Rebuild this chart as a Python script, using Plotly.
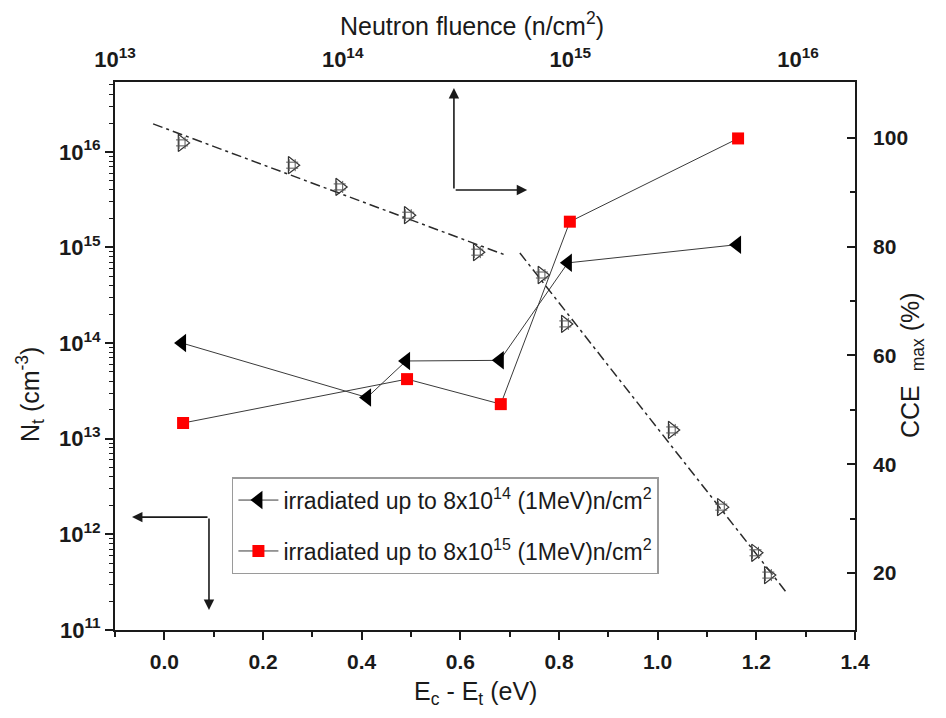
import plotly.graph_objects as go

# ---- data ----
# Trap concentration vs trap energy (bottom x, left log y)
e_tri = [0.036, 0.411, 0.49, 0.68, 0.818, 1.161]
nt_tri = [1.0e14, 2.7e13, 6.5e13, 6.6e13, 6.9e14, 1.07e15]
e_sq = [0.038, 0.492, 0.682, 0.822, 1.163]
nt_sq = [1.46e13, 4.2e13, 2.3e13, 1.86e15, 1.38e16]

# CCE_max vs neutron fluence (top x log, right y)
fluence = [1.97e13, 6.0e13, 9.7e13, 1.94e14, 3.9e14, 7.5e14, 9.5e14, 2.8e15, 4.6e15, 6.5e15, 7.4e15]
cce = [99.1, 95.0, 91.0, 85.8, 79.0, 74.8, 65.8, 46.3, 32.1, 23.7, 19.6]

# dash-dot guide lines (two straight segments)
fit1_x = [1.47e13, 5.16e14]
fit1_y = [102.6, 78.5]
fit2_x = [6.0e14, 8.93e15]
fit2_y = [78.85, 16.3]

x_ticks = [0.0, 0.2, 0.4, 0.6, 0.8, 1.0, 1.2, 1.4]
x_ticklabels = ["0.0", "0.2", "0.4", "0.6", "0.8", "1.0", "1.2", "1.4"]
y_ticks = [1e11, 1e12, 1e13, 1e14, 1e15, 1e16]
y_ticklabels = ["10<sup>11</sup>", "10<sup>12</sup>", "10<sup>13</sup>", "10<sup>14</sup>", "10<sup>15</sup>", "10<sup>16</sup>"]
top_ticks = [1e13, 1e14, 1e15, 1e16]
top_ticklabels = ["10<sup>13</sup>", "10<sup>14</sup>", "10<sup>15</sup>", "10<sup>16</sup>"]
r_ticks = [20, 40, 60, 80, 100]

legend_names = ["irradiated up to 8x10<sup>14</sup> (1MeV)n/cm<sup>2</sup>",
                "irradiated up to 8x10<sup>15</sup> (1MeV)n/cm<sup>2</sup>"]

FONT = "Liberation Sans, Arial, sans-serif"
INK = "#1a1a1a"

fig = go.Figure()

fig.add_trace(go.Scatter(x=e_tri, y=nt_tri, mode="lines+markers", name=legend_names[0],
                         line=dict(color="#3a3a3a", width=1),
                         marker=dict(symbol="triangle-left", size=16, color="black"),
                         legendgroup="a", xaxis="x", yaxis="y"))
fig.add_trace(go.Scatter(x=e_sq, y=nt_sq, mode="lines+markers", name=legend_names[1],
                         line=dict(color="#3a3a3a", width=1),
                         marker=dict(symbol="square", size=12, color="#ff0000"),
                         legendgroup="b", xaxis="x", yaxis="y"))

fig.add_trace(go.Scatter(x=fit1_x, y=fit1_y, mode="lines", showlegend=False,
                         line=dict(color="#2a2a2a", width=1.5, dash="10px,4px,3px,4px"),
                         xaxis="x2", yaxis="y2"))
fig.add_trace(go.Scatter(x=fit2_x, y=fit2_y, mode="lines", showlegend=False,
                         line=dict(color="#2a2a2a", width=1.5, dash="10px,4px,3px,4px"),
                         xaxis="x2", yaxis="y2"))
fig.add_trace(go.Scatter(x=fluence, y=cce, mode="markers", showlegend=False,
                         marker=dict(symbol="triangle-right-open", size=15, color="#333",
                                     line=dict(color="#333", width=1.2)),
                         xaxis="x2", yaxis="y2"))
fig.add_trace(go.Scatter(x=fluence, y=cce, mode="markers", showlegend=False,
                         marker=dict(symbol="hash-open", size=12, color="#555",
                                     line=dict(color="#555", width=1)),
                         xaxis="x2", yaxis="y2"))

minor_log = [m * 10 ** e for e in range(11, 17) for m in range(2, 10)]

axis_common = dict(showline=True, linecolor=INK, linewidth=1.8, showgrid=False, zeroline=False)
bold22 = dict(family=FONT, size=22, color=INK, weight="bold")
bold21 = dict(family=FONT, size=21, color=INK, weight="bold")

fig.update_layout(
    width=946, height=718,
    margin=dict(l=115, r=91, t=82, b=88),
    paper_bgcolor="white", plot_bgcolor="white",
    font=dict(family=FONT, color=INK),
    xaxis=dict(range=[-0.1, 1.4], tickvals=x_ticks, ticktext=x_ticklabels,
               ticks="outside", ticklen=8, tickwidth=1.5, tickcolor=INK, tickfont=bold21,
               ticklabelstandoff=4,
               minor=dict(tickvals=[-0.1, 0.1, 0.3, 0.5, 0.7, 0.9, 1.1, 1.3], ticks="outside",
                          ticklen=5, tickwidth=1.5, tickcolor=INK),
               **axis_common),
    yaxis=dict(type="log", range=[11, 16.73], tickvals=y_ticks, ticktext=y_ticklabels,
               ticks="outside", ticklen=8, tickwidth=1.5, tickcolor=INK, tickfont=bold22,
               minor=dict(tickvals=minor_log, ticks="outside", ticklen=4, tickwidth=1, tickcolor=INK),
               **axis_common),
    xaxis2=dict(type="log", range=[13, 16.25], overlaying="x", side="top", anchor="y",
                tickvals=top_ticks, ticktext=top_ticklabels, ticks="", ticklabelstandoff=4,
                tickfont=bold22, **axis_common),
    yaxis2=dict(range=[9.5, 110.3], overlaying="y", side="right", anchor="x",
                tickvals=r_ticks, ticks="inside", ticklen=8, tickwidth=1.5, tickcolor=INK,
                ticklabelstandoff=12, tickfont=bold21,
                minor=dict(tickvals=[30, 50, 70, 90], ticks="inside", ticklen=5, tickwidth=1.5, tickcolor=INK),
                **axis_common),
    legend=dict(x=0.158, y=0.279, xanchor="left", yanchor="top",
                bordercolor="#9a9a9a", borderwidth=1.5, bgcolor="white",
                font=dict(family=FONT, size=23, color=INK), tracegroupgap=18,
                itemwidth=40),
    showlegend=True,
)

# axis titles
title_font = dict(family=FONT, size=25, color=INK)
fig.add_annotation(text="Neutron fluence (n/cm<sup>2</sup>)", x=(472 - 115) / 740, y=(630 - 24) / 548,
                   xref="paper", yref="paper", xanchor="center", yanchor="middle",
                   showarrow=False, font=title_font)
fig.add_annotation(text="E<sub>c</sub> - E<sub>t</sub> (eV)", x=(475 - 115) / 740, y=(630 - 693) / 548,
                   xref="paper", yref="paper", xanchor="center", yanchor="middle",
                   showarrow=False, font=title_font)
fig.add_annotation(text="N<sub>t</sub> (cm<sup>-3</sup>)", x=(30 - 115) / 740, y=(630 - 395) / 548,
                   xref="paper", yref="paper", xanchor="center", yanchor="middle",
                   showarrow=False, textangle=-90, font=title_font)
fig.add_annotation(text="CCE  <sub>max</sub> (%)", x=(912 - 115) / 740, y=(630 - 365) / 548,
                   xref="paper", yref="paper", xanchor="center", yanchor="middle",
                   showarrow=False, textangle=-90, font=title_font)

# direction arrows
arrow = dict(xref="paper", yref="paper", axref="pixel", ayref="pixel", text="", showarrow=True,
             arrowhead=2, arrowsize=1.3, arrowwidth=1.6, arrowcolor=INK)
fig.add_annotation(x=0.458, y=0.989, ax=0, ay=102, **arrow)
fig.add_annotation(x=0.557, y=0.803, ax=-73, ay=0, **arrow)
fig.add_annotation(x=0.023, y=0.206, ax=77, ay=0, **arrow)
fig.add_annotation(x=0.127, y=0.0365, ax=0, ay=-93, **arrow)

fig.write_html("out.html")
